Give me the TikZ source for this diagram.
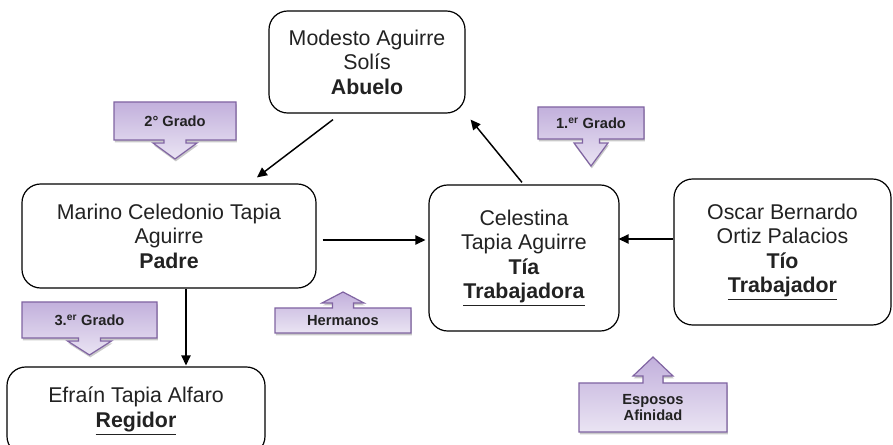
\documentclass[tikz,border=0pt]{standalone}
\usepackage{fontspec}
\setmainfont{Liberation Sans}
\usepackage{tikz}
\usetikzlibrary{arrows.meta,calc,shadows}

\definecolor{lila}{HTML}{8064A2}
\definecolor{lilaosc}{HTML}{C2B0DC}
\definecolor{lilacla}{HTML}{EAE4F3}
\definecolor{tinta}{HTML}{222222}

% callout: name, cx, half width, far edge, near edge, head base, tip, head half width, text
\newcommand{\grado}[9]{%
  \path[grado] ({#2-#3},#4) -- ({#2+#3},#4) -- ({#2+#3},#5) -- ({#2+0.5*#8},#5)
    -- ({#2+0.5*#8},#6) -- ({#2+#8},#6) -- (#2,#7) -- ({#2-#8},#6)
    -- ({#2-0.5*#8},#6) -- ({#2-0.5*#8},#5) -- ({#2-#3},#5) -- cycle;
  \node[gradotxt] (#1) at (#2,{(#4+#5)/2}) {#9};
}

\begin{document}
\begin{tikzpicture}[x=0.75pt,y=-0.75pt,
	persona/.style={draw,rounded corners=14pt,line width=0.9pt,align=center,text=tinta,
		font=\fontsize{16}{18.4}\selectfont,inner sep=2pt},
	flecha/.style={-{Triangle[length=7.5pt,width=7pt]},line width=1.1pt},
	grado/.style={draw=lila,line width=0.9pt,top color=lilaosc,bottom color=lilacla,
		drop shadow={shadow xshift=0.6pt,shadow yshift=-1.8pt,fill=gray!70,opacity=0.6}},
	gradotxt/.style={align=center,text=tinta,font=\bfseries\fontsize{11}{12.7}\selectfont,inner sep=1pt}]
	\useasboundingbox[fill=white] (0,0) rectangle (893,445);

	\node[persona,minimum width=147pt,minimum height=76.5pt] (abuelo) at (367,62)
		{Modesto Aguirre\\Solís\\\textbf{Abuelo}};
	\node[persona,minimum width=220.5pt,minimum height=78pt] (padre) at (169,236)
		{Marino Celedonio Tapia\\Aguirre\\\textbf{Padre}};
	\node[persona,minimum width=142.5pt,minimum height=109.5pt] (celestina) at (524,258)
		{Celestina\\Tapia Aguirre\\\textbf{Tía}\\\underline{\textbf{Trabajadora}}};
	\node[persona,minimum width=162.75pt,minimum height=109.5pt] (oscar) at (782.5,252)
		{Oscar Bernardo\\Ortiz Palacios\\\textbf{Tío}\\\underline{\textbf{Trabajador}}};
	\node[persona,minimum width=193.5pt,minimum height=66pt] (efrain) at (136,411)
		{Efraín Tapia Alfaro\\\underline{\textbf{Regidor}}};

	\draw[flecha] ($(abuelo.south)+(-34,6)$) -- ($(padre.north)+(88,-6)$);
	\draw[flecha] ($(celestina.north)+(-2,-2)$) -- ($(abuelo.south east)+(5,6)$);
	\draw[flecha] ($(padre.east)+(6,4)$) -- ($(celestina.west)+(-3,-18)$);
	\draw[flecha] ($(oscar.west)+(0,-13)$) -- ($(celestina.east)+(-1,-19)$);
	\draw[flecha] ($(padre.south)+(17,0)$) -- ($(efrain.north)+(50,-1)$);

	\grado{g2}{175}{61}{102}{140}{143}{159}{22}{2° Grado}
	\grado{g1}{591}{53}{107}{139}{143}{166}{17}{1.\textsuperscript{er} Grado}
	\grado{g3}{89.5}{67.5}{302}{338}{341}{355}{22}{3.\textsuperscript{er} Grado}
	\grado{herm}{343}{68}{333}{308}{303}{292}{21}{Hermanos}
	\grado{esp}{653}{74}{432}{383}{376}{357}{20}{Esposos\\Afinidad}
\end{tikzpicture}
\end{document}
